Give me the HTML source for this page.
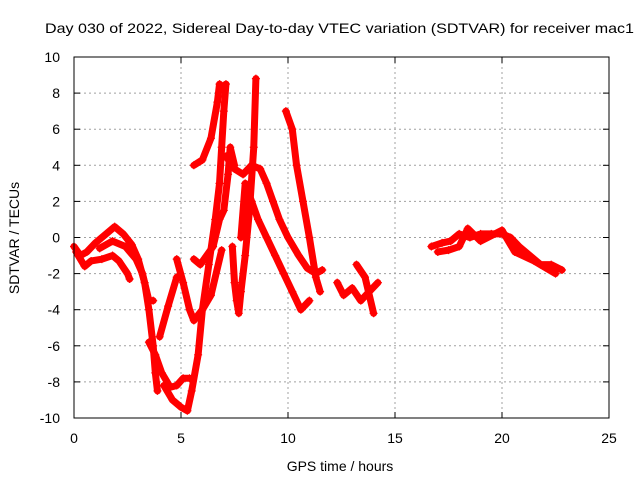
<!DOCTYPE html>
<html><head><meta charset="utf-8"><style>
body{margin:0;background:#fff}
svg text{font-family:"Liberation Sans",sans-serif;font-size:14px;fill:#000}
</style></head><body>
<svg id="chart" width="640" height="480" xmlns="http://www.w3.org/2000/svg">
<rect width="640" height="480" fill="#fff"/>
<text x="45" y="33" textLength="589" lengthAdjust="spacingAndGlyphs">Day 030 of 2022, Sidereal Day-to-day VTEC variation (SDTVAR) for receiver mac1</text>
<g id="grid"></g><g id="marks"></g><g id="axes"></g>
<text x="340" y="471" text-anchor="middle">GPS time / hours</text>
<text transform="translate(19,238) rotate(-90)" text-anchor="middle">SDTVAR / TECUs</text>
</svg>
<script>
const xTicks=[0,5,10,15,20,25];
const yTicks=[-10,-8,-6,-4,-2,0,2,4,6,8,10];
const trackA=[[0,-0.5],[0.3,-1.0],[0.6,-0.8],[1.0,-0.3],[1.5,0.2],[1.9,0.6],[2.3,0.2],[2.7,-0.4],[3.0,-1.2],[3.3,-2.5],[3.5,-4],[3.7,-6],[3.8,-7.5],[3.9,-8.5]];
const trackB=[[0.1,-0.8],[0.5,-1.6],[0.8,-1.3],[1.3,-1.2],[1.8,-1.0],[2.1,-1.3],[2.5,-2.0],[2.6,-2.3]];
const trackC=[[1.2,-0.6],[1.8,-0.2],[2.4,-0.5],[2.9,-1.2],[3.2,-2.0],[3.5,-3.5],[3.7,-3.5]];
const trackD=[[3.5,-5.8],[3.8,-6.5],[4.1,-7.5],[4.5,-8.3],[4.8,-8.2],[5.1,-7.8],[5.4,-7.8]];
const trackE=[[4.2,-8.2],[4.6,-9.0],[5.0,-9.4],[5.3,-9.6],[5.5,-8.5],[5.8,-6.5],[6.0,-4],[6.3,-1.5],[6.6,1],[6.8,3],[6.9,5],[7.0,7],[7.1,8.5]];
const trackF=[[4.0,-5.5],[4.4,-3.8],[4.8,-2.2]];
const trackG=[[4.8,-1.2],[5.1,-2.5],[5.4,-4.0],[5.6,-4.6],[6.0,-4.0],[6.4,-3.2],[6.9,-0.7]];
const trackH=[[5.6,-1.2],[5.9,-1.5],[6.2,-1.0],[6.5,-0.5],[6.8,1],[7.0,1.5],[7.2,3.5],[7.3,5],[7.5,4]];
const trackI=[[5.6,4],[6.0,4.3],[6.4,5.5],[6.7,7.5],[6.8,8.5],[7.0,8.3]];
const trackJ=[[7.1,4.5],[7.5,3.8],[7.9,3.5],[8.3,4],[8.7,3.8],[9.0,3.0],[9.3,2.0],[9.6,1.0],[10.0,0],[10.5,-1],[10.9,-1.7],[11.3,-2],[11.6,-1.8]];
const trackK=[[7.4,-0.5],[7.5,-2.5],[7.6,-3.5],[7.7,-4.2],[7.8,-3],[8.0,-1],[8.2,1.5],[8.4,5],[8.5,8.8]];
const trackL=[[9.9,7],[10.2,6],[10.4,4],[10.7,2],[11.0,0],[11.3,-2.2],[11.5,-3]];
const trackM=[[7.8,0],[8.0,3],[8.3,2],[8.6,1],[9.0,0],[9.4,-1],[9.8,-2],[10.2,-3],[10.6,-4],[11.0,-3.5]];
const trackN=[[12.3,-2.5],[12.6,-3.2],[13,-2.8],[13.4,-3.5],[13.8,-3],[14.2,-2.5]];
const trackO=[[13.2,-1.5],[13.6,-2.2],[14,-4.2]];
const trackP=[[16.7,-0.5],[17.2,-0.3],[17.6,-0.2],[18.0,0.2],[18.5,0],[19,0.2],[19.5,0.2],[20,0.2],[20.4,0],[20.8,-0.5],[21.3,-1.0],[21.8,-1.5],[22.3,-1.5],[22.8,-1.8]];
const trackQ=[[17,-0.8],[17.5,-0.7],[18,-0.5],[18.4,0.5],[19,-0.2],[20,0.4],[20.6,-0.8],[21.5,-1.3],[22.5,-2]];
const tracks=[trackA,trackB,trackC,trackD,trackE,trackF,trackG,trackH,trackI,trackJ,trackK,trackL,trackM,trackN,trackO,trackP,trackQ];

const L=74,R=609,T=57,B=418;
const xs=v=>L+(v-0)/25*(R-L);
const ys=v=>B-(v+10)/20*(B-T);
const NS="http://www.w3.org/2000/svg";
const grid=document.getElementById('grid'),axes=document.getElementById('axes'),marks=document.getElementById('marks');
function mk(tag,attrs,parent){const e=document.createElementNS(NS,tag);for(const k in attrs)e.setAttribute(k,attrs[k]);parent.appendChild(e);return e;}
xTicks.forEach(t=>{
  const x=xs(t);
  if(t>0&&t<25){const g=mk('line',{x1:x,x2:x,y1:T,y2:B,stroke:'#a0a0a0','stroke-dasharray':'2,3'},grid);
  
  }
  mk('line',{x1:x,x2:x,y1:B,y2:B-6,stroke:'#000'},axes);
  mk('line',{x1:x,x2:x,y1:T,y2:T+6,stroke:'#000'},axes);
  const tx=mk('text',{x:x,y:443,'text-anchor':'middle'},axes);tx.textContent=t;
  
  
});
yTicks.forEach(t=>{
  const y=ys(t);
  if(t>-10&&t<10){const g=mk('line',{x1:L,x2:R,y1:y,y2:y,stroke:'#a0a0a0','stroke-dasharray':'2,3'},grid);
  
  }
  mk('line',{x1:L,x2:L+6,y1:y,y2:y,stroke:'#000'},axes);
  mk('line',{x1:R,x2:R-6,y1:y,y2:y,stroke:'#000'},axes);
  const tx=mk('text',{x:60,y:y+5,'text-anchor':'end'},axes);tx.textContent=t;
  
  
});
const fr=mk('rect',{x:L,y:T,width:R-L,height:B-T,fill:'none',stroke:'#000'},axes);


tracks.forEach(tr=>{
  const pl=mk('polyline',{points:tr.map(p=>xs(p[0])+','+ys(p[1])).join(' '),fill:'none',stroke:'#f00','stroke-width':7,'stroke-linejoin':'round','stroke-linecap':'round'},marks);
  
  
  tr.forEach(p=>{
    const x=xs(p[0]),y=ys(p[1]);
    const m=mk('path',{d:`M${x-4},${y}H${x+4}M${x},${y-4}V${y+4}`,stroke:'#f00','stroke-width':1.2},marks);
    
    
  });
});
</script>
</body></html>
